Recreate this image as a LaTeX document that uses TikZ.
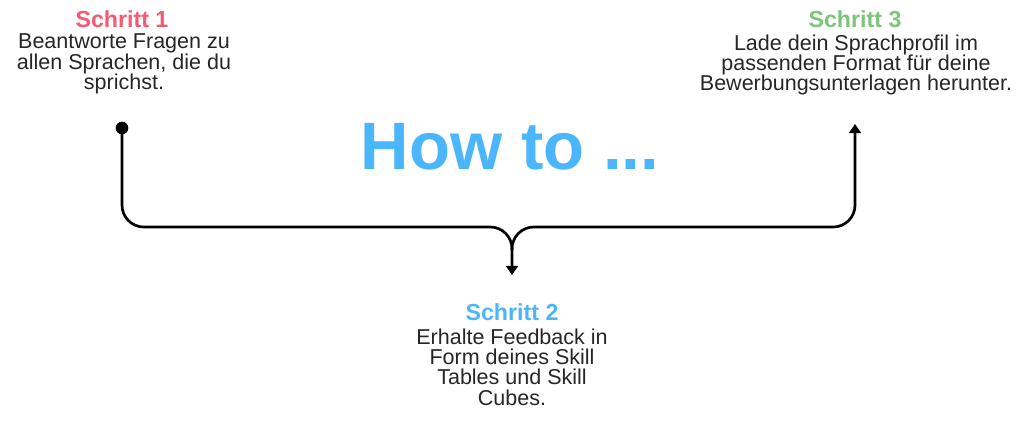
\documentclass[tikz,border=0pt]{standalone}
\usepackage{fontspec}
\setmainfont{Liberation Sans}
\usetikzlibrary{arrows.meta}

\definecolor{stepred}{HTML}{F45B72}
\definecolor{stepblue}{HTML}{4BB6FB}
\definecolor{stepgreen}{HTML}{7DC47B}

\newcommand{\stepfont}{\fontsize{15.3}{14.4}\selectfont\lineskiplimit=-20pt\relax}

\tikzset{
  head/.style={font=\fontsize{16.5}{17}\selectfont\bfseries},
  body/.style={font=\stepfont, align=center, text=black!85},
  flow/.style={line width=1.9pt, rounded corners=15.5pt},
  tip/.style={-{Triangle[width=8.5pt,length=6.5pt]}}
}

\begin{document}
\begin{tikzpicture}[x=0.025cm, y=-0.025cm]
        \useasboundingbox (0,0) rectangle (1024,421);
        % Schritt 1
        \node[head, text=stepred] (s1head) at (122,19) {Schritt 1};
        \node[body] (s1text) at (124,64) {Beantworte Fragen zu\\allen Sprachen, die du\\sprichst.};
        % Schritt 3
        \node[head, text=stepgreen] (s3head) at (855,19) {Schritt 3};
        \node[body] (s3text) at (856,65) {Lade dein Sprachprofil im\\passenden Format für deine\\Bewerbungsunterlagen herunter.};
        % Schritt 2
        \node[head, text=stepblue] (s2head) at (512,312) {Schritt 2};
        \node[body] (s2text) at (512,367) {Erhalte Feedback in\\Form deines Skill\\Tables und Skill\\Cubes.};
        % title
        \node[font=\fontsize{47.7}{50}\selectfont\bfseries, text=stepblue] (title) at (510,147) {How to ...};
        % connectors
        \node[circle, fill=black, inner sep=0pt, minimum size=9pt] (dot) at (122,128) {};
        \coordinate (fork) at (512,227);
        \coordinate (split) at (512,250);
        \coordinate (s2in) at (512,275);
        \coordinate (s3in) at (855,124);
        \draw[flow, tip] (dot.center) |- (fork) -- (s2in);
        \draw[flow, tip] (split) -- (fork) -| (s3in);
    \end{tikzpicture}
\end{document}
